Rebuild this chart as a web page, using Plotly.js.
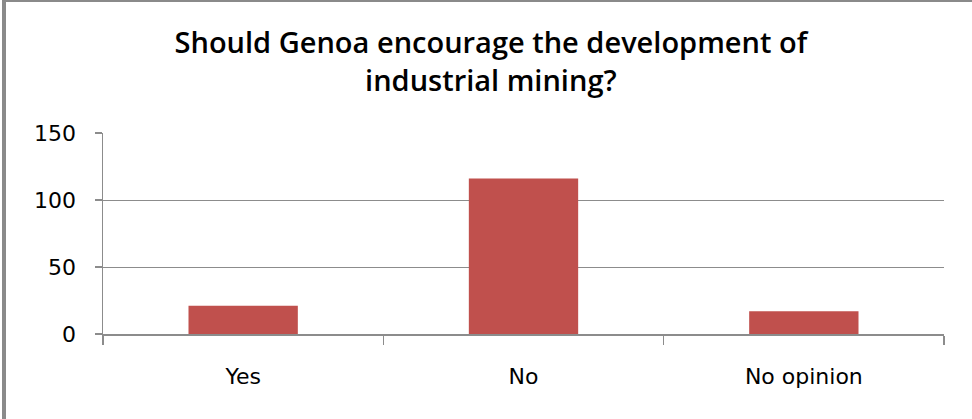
<!DOCTYPE html>
<html>
<head>
<meta charset="utf-8">
<script src="https://cdn.plot.ly/plotly-3.0.1.min.js"></script>
<style>
  html, body { margin: 0; padding: 0; background: #fff; overflow: hidden; }
  #chart { width: 972px; height: 419px; }
  #frame { position: absolute; left: 2px; top: 0; width: 1000px; height: 1000px;
           border-left: 4px solid #8a8a8a; border-top: 2px solid #8a8a8a; pointer-events: none; }
</style>
</head>
<body>
<div id="chart"></div>
<div id="frame"></div>
<script>
const categories = ["Yes", "No", "No opinion"];
const responses = [21, 116, 17];
const yTickValues = [0, 50, 100, 150];
const titleText = "Should Genoa encourage the development of<br>industrial mining?";

const trace = {
  type: "bar",
  x: categories,
  y: responses,
  marker: { color: "#C0504D", line: { width: 0 } },
  width: 0.39,
  hoverinfo: "x+y"
};

const layout = {
  width: 972,
  height: 419,
  paper_bgcolor: "#ffffff",
  plot_bgcolor: "#ffffff",
  margin: { l: 103, r: 28, t: 133, b: 85 },
  showlegend: false,
  title: {
    text: titleText,
    font: { family: "'Open Sans', Lato, sans-serif", size: 29, color: "#000000", weight: 600 },
    x: 0.505,
    xanchor: "center",
    y: 1 - 53 / 419,
    yanchor: "top"
  },
  xaxis: {
    type: "category",
    showline: true,
    linecolor: "#8c8c8c",
    linewidth: 1.5,
    ticks: "outside",
    tickson: "boundaries",
    ticklen: 9,
    tickcolor: "#8c8c8c",
    tickwidth: 1.5,
    showgrid: false,
    ticklabelstandoff: 22,
    tickfont: { family: "'DejaVu Sans', sans-serif", size: 22, color: "#000000" },
    fixedrange: true
  },
  yaxis: {
    range: [0, 150],
    tickvals: yTickValues,
    ticktext: yTickValues.map(String),
    showline: true,
    linecolor: "#8c8c8c",
    linewidth: 1.5,
    ticks: "outside",
    ticklen: 7,
    tickcolor: "#8c8c8c",
    tickwidth: 1.5,
    showgrid: true,
    gridcolor: "#8c8c8c",
    gridwidth: 1,
    zeroline: false,
    ticklabelstandoff: 14,
    tickfont: { family: "'DejaVu Sans', sans-serif", size: 22, color: "#000000" },
    fixedrange: true
  },
  bargap: 0.6
};

Plotly.newPlot("chart", [trace], layout, { displayModeBar: false, staticPlot: true });
</script>
</body>
</html>
